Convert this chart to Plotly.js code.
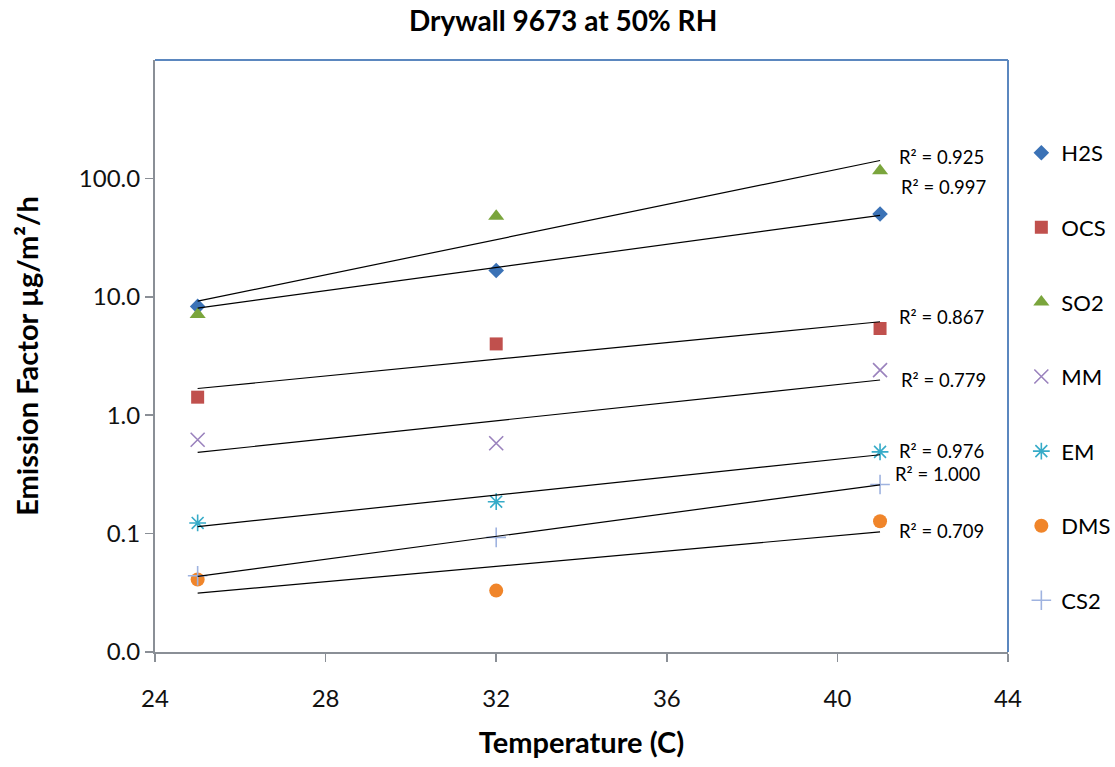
<!DOCTYPE html>
<html>
<head>
<meta charset="utf-8">
<script src="https://cdn.plot.ly/plotly-3.0.1.min.js"></script>
<style>html,body{margin:0;padding:0;background:#fff;}#chart{width:1115px;height:767px;}</style>
</head>
<body>
<div id="chart"></div>
<script>
// ---- data ----
var temperatures = [25, 32, 41];
var seriesNames = ["H2S", "OCS", "SO2", "MM", "EM", "DMS", "CS2"];
var H2S = [8.3, 16.7, 50];
var OCS = [1.42, 4.0, 5.4];
var SO2 = [7.1, 48, 116];
var MM  = [0.62, 0.58, 2.4];
var EM  = [0.123, 0.186, 0.49];
var DMS = [0.041, 0.033, 0.127];
var CS2 = [0.044, 0.093, 0.26];
var r2Labels = ["R² = 0.997", "R² = 0.867", "R² = 0.925", "R² = 0.779", "R² = 0.976", "R² = 0.709", "R² = 1.000"];
var yTickVals = [0.01, 0.1, 1, 10, 100];
var yTickText = ["0.0", "0.1", "1.0", "10.0", "100.0"];
var xTickVals = [24, 28, 32, 36, 40, 44];

// ---- styles ----
var seriesValues = [H2S, OCS, SO2, MM, EM, DMS, CS2];
var colors = ["#3b72b6", "#c0504d", "#7aa53c", "#9a82bd", "#36abc8", "#f0852a", "#9fb3e0"];
var symbols = ["diamond", "square", "triangle-up", "x-thin-open", "asterisk-open", "circle", "cross-thin-open"];
var sizes = [12, 13, 14, 14, 14, 14, 14];
// label positions (x in data units, y as log10)
var r2Pos = [[41.45, 1.93], [41.4, 0.827], [41.4, 2.177], [41.45, 0.295], [41.4, -0.304], [41.4, -0.979], [41.3, -0.498]];

var FONT = "Lato, 'Open Sans', sans-serif";

function expFit(xs, ys) {
  var n = xs.length, mx = 0, my = 0;
  var ly = ys.map(function (v) { return Math.log(v); });
  for (var i = 0; i < n; i++) { mx += xs[i]; my += ly[i]; }
  mx /= n; my /= n;
  var sxy = 0, sxx = 0;
  for (var j = 0; j < n; j++) { sxy += (xs[j] - mx) * (ly[j] - my); sxx += (xs[j] - mx) * (xs[j] - mx); }
  var b = sxy / sxx, a = my - b * mx;
  return function (x) { return Math.exp(a + b * x); };
}

var traces = [];
seriesNames.forEach(function (name, i) {
  traces.push({
    type: "scatter", mode: "markers", name: name,
    x: temperatures, y: seriesValues[i],
    legendgroup: name,
    marker: {
      symbol: symbols[i], size: sizes[i], color: colors[i],
      line: {color: colors[i], width: (symbols[i].indexOf("open") >= 0 ? 1.6 : 0)}
    },
    cliponaxis: false
  });
});
seriesNames.forEach(function (name, i) {
  var f = expFit(temperatures, seriesValues[i]);
  var x0 = temperatures[0], x1 = temperatures[temperatures.length - 1];
  traces.push({
    type: "scatter", mode: "lines", showlegend: false, hoverinfo: "skip",
    x: [x0, x1], y: [f(x0), f(x1)],
    line: {color: "#000", width: 1.2}
  });
});

var annotations = r2Labels.map(function (t, i) {
  return {
    text: t, x: r2Pos[i][0], y: r2Pos[i][1], xref: "x", yref: "y",
    xanchor: "left", yanchor: "middle", showarrow: false,
    font: {family: FONT, size: 18.5, color: "#000"}
  };
});

var layout = {
  width: 1115, height: 767,
  paper_bgcolor: "#fff", plot_bgcolor: "#fff",
  margin: {l: 155, r: 107, t: 60, b: 115, pad: 0},
  title: {
    text: "<b>Drywall 9673 at 50% RH</b>",
    font: {family: FONT, size: 28, color: "#000"},
    x: 0.505, xanchor: "center", xref: "container",
    y: 0.973, yanchor: "middle", yref: "container"
  },
  xaxis: {
    range: [24, 44], tickvals: xTickVals, ticktext: xTickVals.map(String),
    showgrid: false, zeroline: false,
    showline: true, linecolor: "#8a8f96", linewidth: 2,
    ticks: "outside", ticklen: 8, tickcolor: "#8a8f96", tickwidth: 1.5,
    ticklabelstandoff: 16,
    tickfont: {family: FONT, size: 24, color: "#111"},
    title: {text: "<b>Temperature (C)</b>", font: {family: FONT, size: 29, color: "#000"}, standoff: 22}
  },
  yaxis: {
    type: "log", range: [-2, 3],
    tickvals: yTickVals, ticktext: yTickText,
    showgrid: false, zeroline: false,
    showline: true, linecolor: "#8a8f96", linewidth: 2,
    ticks: "outside", ticklen: 8, tickcolor: "#8a8f96", tickwidth: 1.5,
    ticklabelstandoff: 0,
    tickfont: {family: FONT, size: 24, color: "#111"},
    title: {text: "<b>Emission Factor µg/m²/h</b>", font: {family: FONT, size: 29, color: "#000"}, standoff: 32}
  },
  legend: {
    xref: "container", yref: "container",
    x: 0.916, xanchor: "left", y: 0.828, yanchor: "top",
    maxheight: 700,
    font: {family: FONT, size: 22, color: "#000"},
    tracegroupgap: 43, itemwidth: 30, bgcolor: "rgba(0,0,0,0)"
  },
  shapes: [
    {type: "line", xref: "paper", yref: "paper", x0: 0, x1: 1, y0: 1, y1: 1, line: {color: "#5b87bf", width: 2}},
    {type: "line", xref: "paper", yref: "paper", x0: 1, x1: 1, y0: 0, y1: 1, line: {color: "#5b87bf", width: 2}}
  ],
  annotations: annotations,
  showlegend: true
};

Plotly.newPlot("chart", traces, layout, {displayModeBar: false, staticPlot: true});
</script>
</body>
</html>
